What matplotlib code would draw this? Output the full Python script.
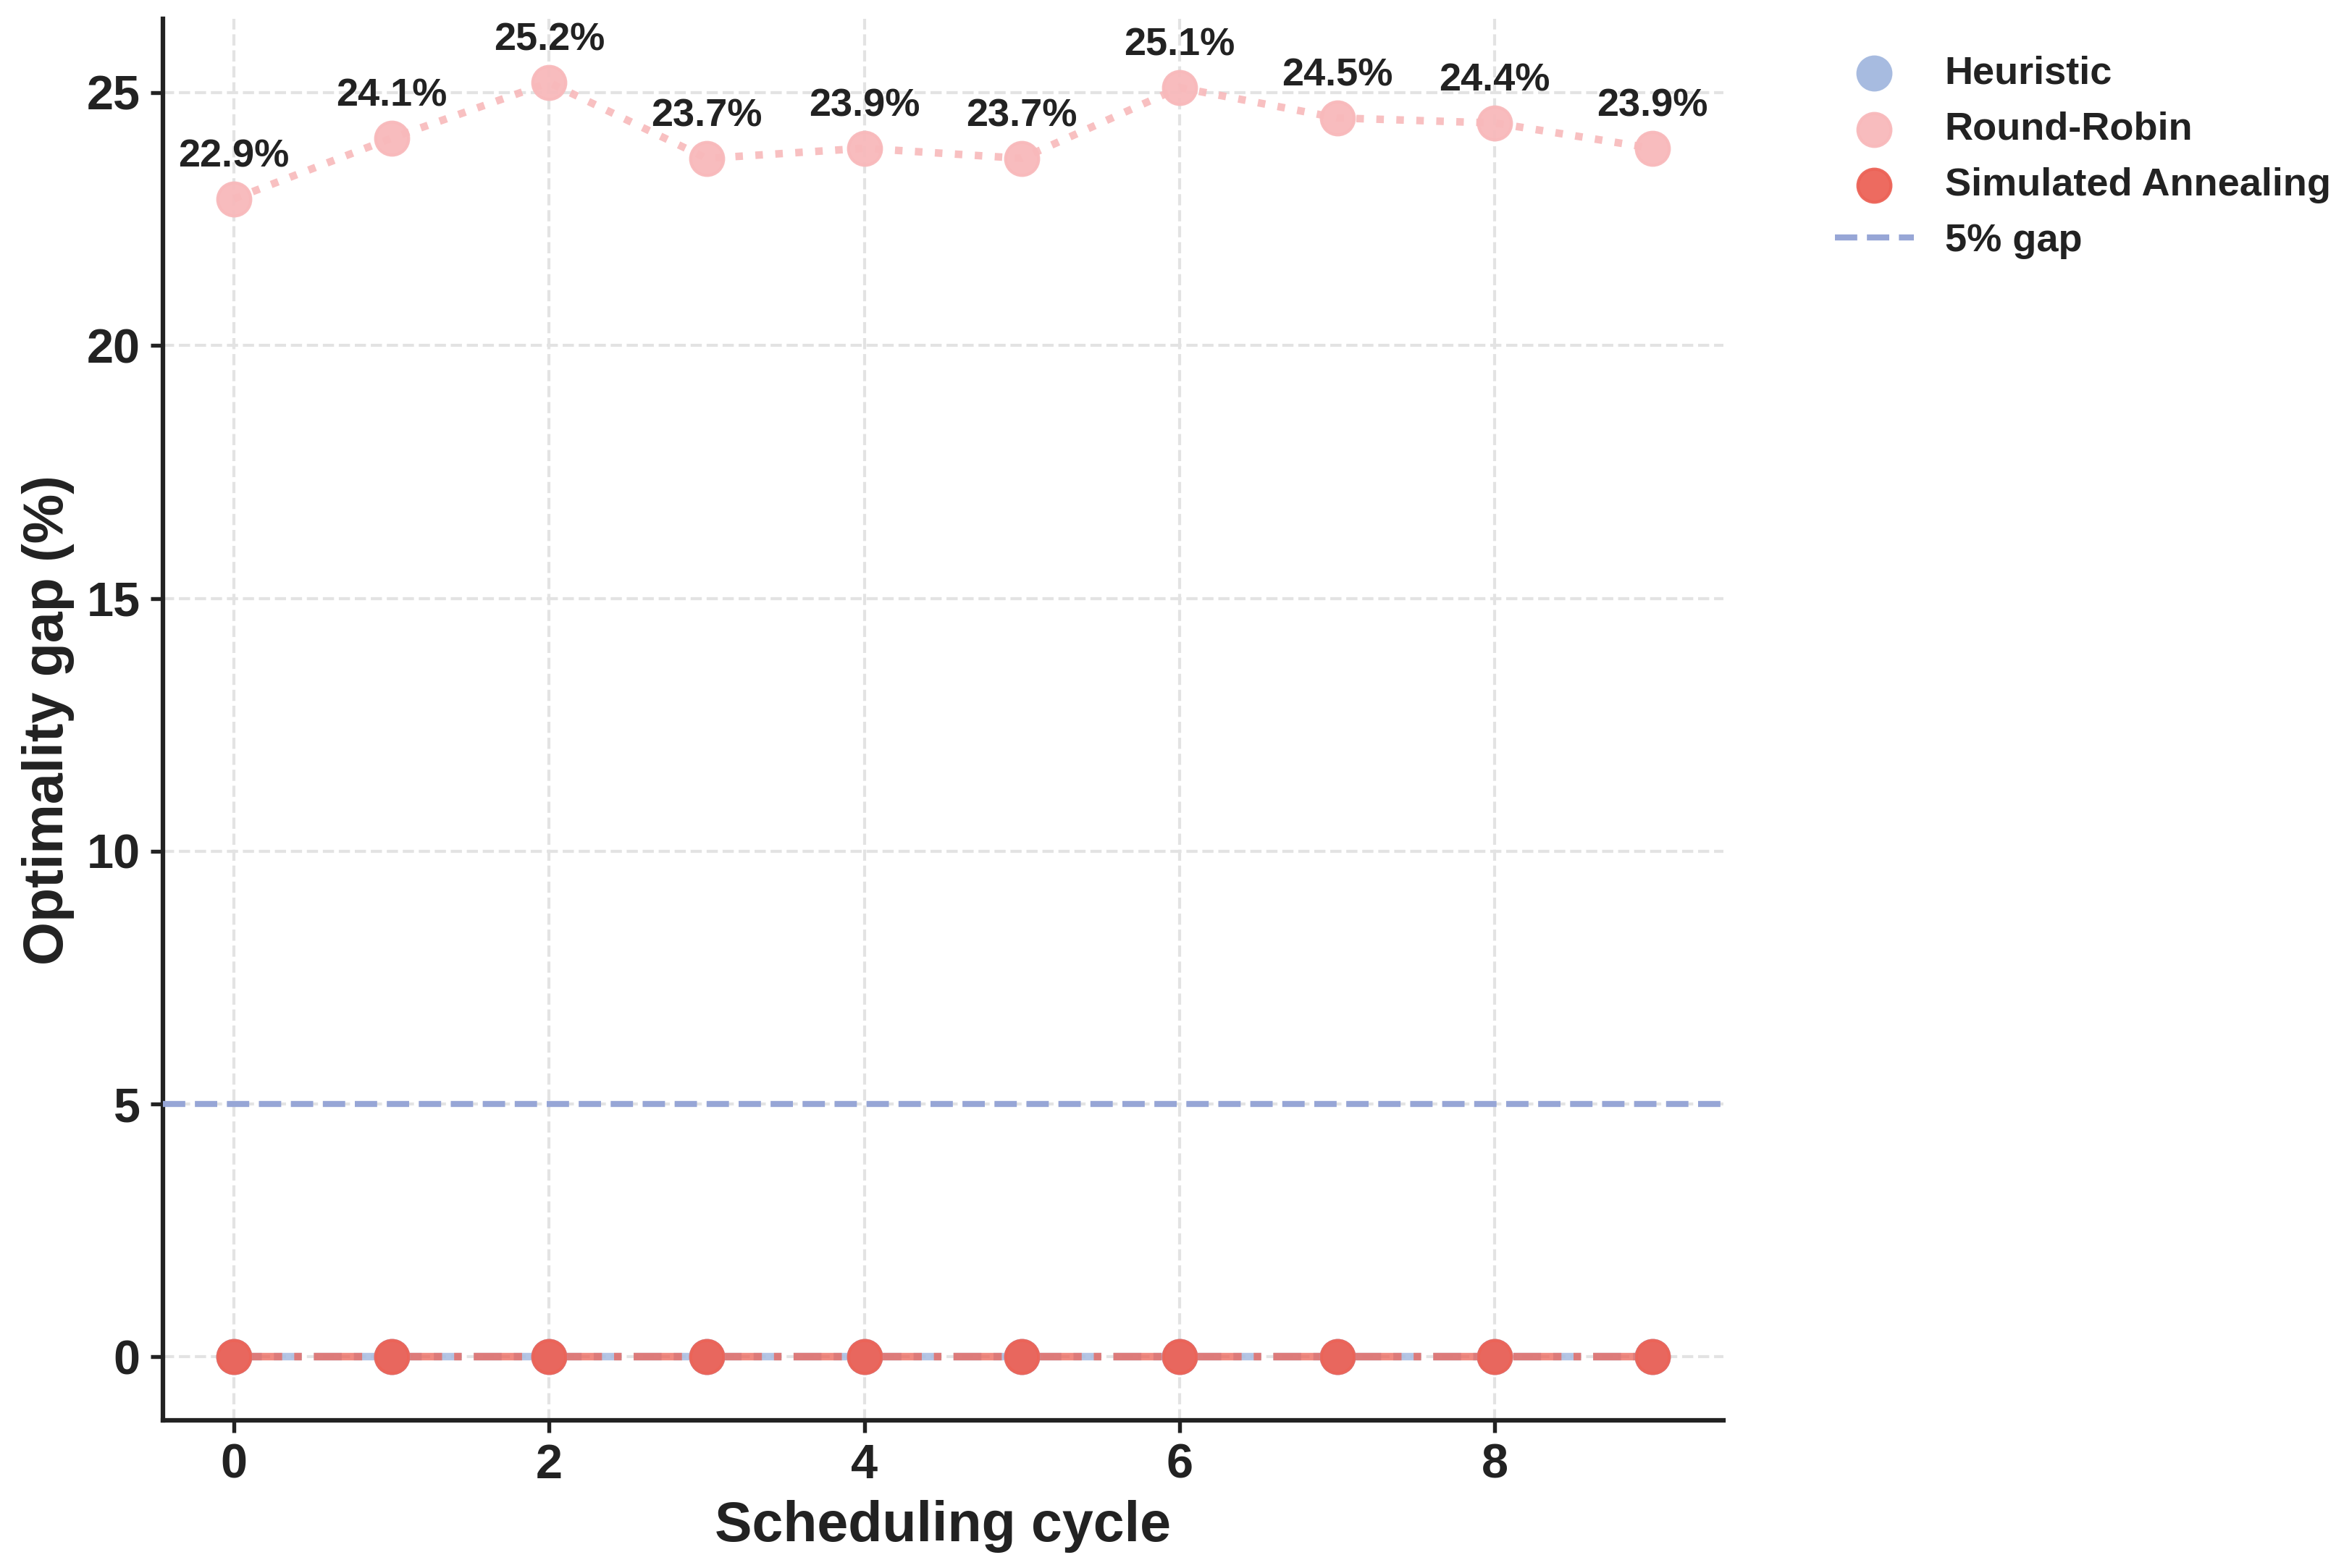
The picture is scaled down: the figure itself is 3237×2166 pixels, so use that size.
import matplotlib.pyplot as plt
import numpy as np

plt.rcParams['font.family'] = ['Liberation Sans', 'DejaVu Sans']
plt.rcParams['font.weight'] = 'bold'

# data
cycles = np.arange(10)
heuristic = [0, 0, 0, 0, 0, 0, 0, 0, 0, 0]
round_robin = [22.9, 24.1, 25.2, 23.7, 23.9, 23.7, 25.1, 24.5, 24.4, 23.9]
sim_annealing = [0, 0, 0, 0, 0, 0, 0, 0, 0, 0]
gap_threshold = 5

c_heur = '#a7bbe0'
c_rr = '#f8b9bb'
c_sa = '#ec6357'
c_gap = '#97a6d6'

fig = plt.figure(figsize=(10.793, 7.22), dpi=300)
ax = fig.add_axes([0.0695, 0.094, 0.6655, 0.894])

# lines
ax.plot(cycles, heuristic, '--', color=c_heur, lw=2.5, alpha=0.85, zorder=2)
ax.plot(cycles, round_robin, ':', color=c_rr, lw=2.5, alpha=0.9, zorder=2)
ax.plot(cycles, sim_annealing, '-.', color=c_sa, lw=2.5, alpha=0.75, zorder=3)

# markers
ax.scatter(cycles, heuristic, s=120, color=c_heur, label='Heuristic', zorder=4)
ax.scatter(cycles, round_robin, s=120, color=c_rr, alpha=0.95, label='Round-Robin', zorder=4)
ax.scatter(cycles, sim_annealing, s=120, color=c_sa, alpha=0.95, label='Simulated Annealing', zorder=5)

ax.axhline(gap_threshold, color=c_gap, ls='--', lw=2, label='5% gap', zorder=3)

for x, y in zip(cycles, round_robin):
    ax.annotate(f'{y:.1f}%', (x, y), xytext=(0, 8), textcoords='offset points',
                ha='center', va='bottom', fontsize=13, fontweight='bold', color='#222222')

ax.set_xlabel('Scheduling cycle', fontsize=18.5, fontweight='bold', color='#222222')
ax.set_ylabel('Optimality gap (%)', fontsize=18.5, fontweight='bold', color='#222222')
ax.tick_params(axis='both', labelsize=16, width=1.3, length=4, color='#222222',
               labelcolor='#222222')
for lab in ax.get_xticklabels() + ax.get_yticklabels():
    lab.set_fontweight('bold')

ax.grid(True, ls='--', color='#e3e3e3', lw=1)
ax.set_axisbelow(True)
for s in ['top', 'right']:
    ax.spines[s].set_visible(False)
for s in ['left', 'bottom']:
    ax.spines[s].set_linewidth(1.5)
    ax.spines[s].set_color('#222222')

leg = ax.legend(loc='upper left', bbox_to_anchor=(1.049, 0.999), frameon=False,
                prop={'weight': 'bold', 'size': 13})
for t in leg.get_texts():
    t.set_color('#222222')

fig.savefig('out.png', dpi=300)
